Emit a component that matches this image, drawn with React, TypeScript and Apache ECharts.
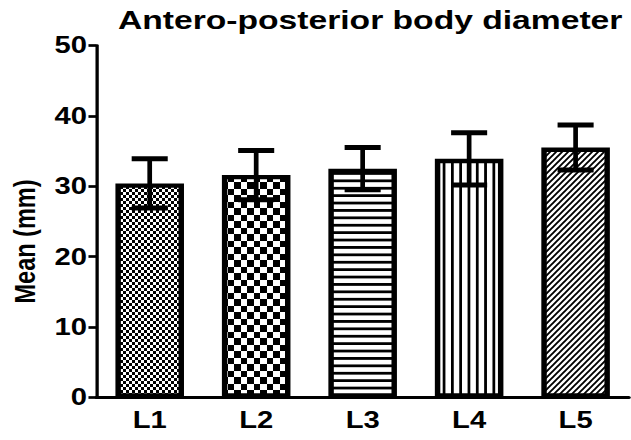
import React, { useEffect, useRef } from "react";
import * as echarts from "echarts";

// ---- data ----
const categories = ["L1", "L2", "L3", "L4", "L5"];
const means = [30.4, 31.6, 32.5, 33.9, 35.5];
const sds = [3.5, 3.5, 3.0, 3.7, 3.2];
const yMin = 0;
const yMax = 50;
const yStep = 10;
const titleText = "Antero-posterior body diameter";
const yAxisTitle = "Mean (mm)";

// ---- layout / style ----
const S = 631 / 497; // horizontal stretch of the whole picture
const FONT = "'Liberation Sans', Arial, Helvetica, sans-serif";

function tile(w: number, h: number, body: string, crisp = true) {
  const svg =
    `<svg xmlns="http://www.w3.org/2000/svg" width="${w}" height="${h}" viewBox="0 0 ${w} ${h}"` +
    (crisp ? ` shape-rendering="crispEdges"` : "") +
    `><rect width="${w}" height="${h}" fill="#fff"/>${body}</svg>`;
  return {
    type: "pattern",
    image: "data:image/svg+xml;charset=utf-8," + encodeURIComponent(svg),
    repeat: "repeat",
    imageWidth: w,
    imageHeight: h,
    scaleX: 1 / S,
    scaleY: 1,
  };
}

const patterns = [
  tile(6, 6, `<rect x="0" y="0" width="3" height="3" fill="#000"/><rect x="3" y="3" width="3" height="3" fill="#000"/>`),
  tile(13, 13, `<rect x="0" y="0" width="6.5" height="6.5" fill="#000"/><rect x="6.5" y="6.5" width="6.5" height="6.5" fill="#000"/>`),
  tile(4, 7.4, `<rect x="0" y="2" width="4" height="2.4" fill="#000"/>`),
  tile(8.3, 4, `<rect x="3" y="0" width="2.1" height="4" fill="#000"/>`),
  tile(6, 6, `<path d="M-1,7 L7,-1 M-1,1 L1,-1 M5,7 L7,5" stroke="#000" stroke-width="1.9"/>`, false),
];

export default function App() {
  const ref = useRef<HTMLDivElement>(null);
  useEffect(() => {
    const chart = echarts.init(ref.current!, null, { renderer: "svg" });
    const option: any = {
      animation: false,
      backgroundColor: "#fff",
      title: {
        text: titleText,
        left: 92.9,
        top: 6.5,
        padding: 0,
        textAlign: "left",
        textStyle: { fontSize: 26.5, fontWeight: "bold", fontFamily: FONT, color: "#000" },
      },
      grid: { left: 70.1, right: 1.7, top: 45.5, bottom: 42.5, containLabel: false },
      xAxis: {
        type: "category",
        data: categories,
        axisLine: { lineStyle: { color: "#000", width: 3 } },
        axisTick: { alignWithLabel: true, length: 7, lineStyle: { color: "#000", width: 2.4 } },
        axisLabel: { color: "#000", fontSize: 23, fontWeight: "bold", fontFamily: FONT, margin: 11 },
      },
      yAxis: {
        type: "value",
        min: yMin,
        max: yMax,
        interval: yStep,
        splitLine: { show: false },
        axisLine: { show: true, lineStyle: { color: "#000", width: 2.6 } },
        axisTick: { show: true, length: 6.3, lineStyle: { color: "#000", width: 2.7 } },
        axisLabel: { color: "#000", fontSize: 23, fontWeight: "bold", fontFamily: FONT, margin: 7.5 },
        name: yAxisTitle,
        nameLocation: "middle",
        nameRotate: 90,
        nameGap: 41,
        nameTextStyle: {
          color: "#000",
          fontSize: 23.5,
          fontWeight: "bold",
          fontFamily: FONT,
          padding: [0, 40, 0, 0],
        },
      },
      series: [
        {
          type: "bar",
          barWidth: 54,
          data: means.map((v, i) => ({ value: v, itemStyle: { color: patterns[i] } })),
          itemStyle: { borderColor: "#000", borderWidth: 4.3 },
          emphasis: { disabled: true },
        },
        {
          type: "custom",
          z: 10,
          data: means.map((m, i) => [i, m - sds[i], m + sds[i]]),
          encode: { x: 0, y: [1, 2] },
          renderItem: (params: any, api: any) => {
            const x = api.value(0);
            const lo = api.coord([x, api.value(1)]);
            const hi = api.coord([x, api.value(2)]);
            const half = 14.2;
            return {
              type: "group",
              children: [
                { type: "line", shape: { x1: hi[0], y1: hi[1], x2: lo[0], y2: lo[1] }, style: { stroke: "#000", lineWidth: 3.7 } },
                { type: "line", shape: { x1: hi[0] - half, y1: hi[1], x2: hi[0] + half, y2: hi[1] }, style: { stroke: "#000", lineWidth: 5 } },
                { type: "line", shape: { x1: lo[0] - half, y1: lo[1], x2: lo[0] + half, y2: lo[1] }, style: { stroke: "#000", lineWidth: 5 } },
              ],
            };
          },
        },
      ],
    };
    chart.setOption(option);
    return () => chart.dispose();
  }, []);
  return (
    <div style={{ position: "fixed", left: 0, top: 0, width: 631, height: 440, overflow: "hidden", background: "#fff" }}>
      <div ref={ref} style={{ width: 497, height: 440, transform: `scaleX(${S})`, transformOrigin: "0 0" }} />
    </div>
  );
}
